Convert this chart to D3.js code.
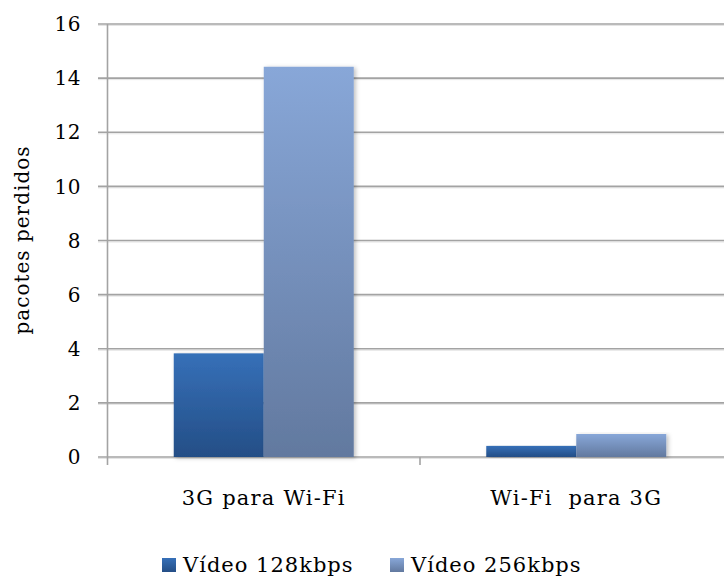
<!DOCTYPE html>
<html>
<head>
<meta charset="utf-8">
<script src="https://cdn.jsdelivr.net/npm/d3@7"></script>
<style>
  html, body { margin: 0; padding: 0; background: #fff; }
  svg { display: block; }
</style>
</head>
<body>
<svg id="chart" width="724" height="576"></svg>
<script>
// Lost packets during handover, per video bitrate
const categories = ["3G para Wi-Fi", "Wi-Fi\u00a0\u00a0para 3G"];
const seriesNames = ["Vídeo 128kbps", "Vídeo 256kbps"];
const video128 = [3.83, 0.41];
const video256 = [14.42, 0.85];
const yTicks = [0, 2, 4, 6, 8, 10, 12, 14, 16];
const yLabel = "pacotes perdidos";

const FONT = "'DejaVu Serif', 'Liberation Serif', serif";
const seriesValues = [video128, video256];
const svg = d3.select("#chart");
const W = 724, H = 576;
const margin = { left: 107.5, right: -8.5, top: 24, bottom: 119 };

const x = d3.scaleBand()
  .domain(categories)
  .range([margin.left, W - margin.right])
  .paddingInner(0)
  .paddingOuter(0);

const y = d3.scaleLinear()
  .domain([0, 16])
  .range([H - margin.bottom, margin.top]);

const xSub = d3.scaleBand()
  .domain(d3.range(seriesNames.length))
  .range([0, x.bandwidth()])
  .paddingInner(0)
  .paddingOuter(0.736);

const defs = svg.append("defs");
const grads = [
  ["#3670b8", "#244e86"],
  ["#88a7d8", "#62799f"]
];
grads.forEach((g, i) => {
  const lg = defs.append("linearGradient")
    .attr("id", "grad" + i)
    .attr("x1", 0).attr("y1", 0).attr("x2", 0).attr("y2", 1);
  lg.append("stop").attr("offset", "0%").attr("stop-color", g[0]);
  lg.append("stop").attr("offset", "100%").attr("stop-color", g[1]);
});
const shadow = defs.append("filter").attr("id", "shadow")
  .attr("x", "-20%").attr("y", "-5%").attr("width", "140%").attr("height", "110%");
shadow.append("feDropShadow")
  .attr("dx", 2).attr("dy", 1).attr("stdDeviation", 2)
  .attr("flood-color", "#000").attr("flood-opacity", 0.25);

// horizontal grid lines with their ticks on the left
const grid = svg.append("g");
grid.selectAll("line.sh").data(yTicks).join("line")
  .attr("class", "sh")
  .attr("x1", 98).attr("x2", W)
  .attr("y1", d => y(d) + 1.5).attr("y2", d => y(d) + 1.5)
  .attr("stroke", "#e4e4e4").attr("stroke-width", 1);
grid.selectAll("line.g").data(yTicks).join("line")
  .attr("class", "g")
  .attr("x1", 98).attr("x2", W)
  .attr("y1", d => y(d)).attr("y2", d => y(d))
  .attr("stroke", "#a3a3a3").attr("stroke-width", 1.6);

// vertical axis line
svg.append("line")
  .attr("x1", margin.left).attr("x2", margin.left)
  .attr("y1", y(16)).attr("y2", y(0) + 8)
  .attr("stroke", "#a3a3a3").attr("stroke-width", 1.6);

// category separator ticks
const sepX = categories.slice(1).map(c => x(c));
svg.selectAll("line.sep").data(sepX).join("line")
  .attr("class", "sep")
  .attr("x1", d => d).attr("x2", d => d)
  .attr("y1", y(0)).attr("y2", y(0) + 8)
  .attr("stroke", "#a3a3a3").attr("stroke-width", 1.6);

// y tick labels
svg.selectAll("text.yt").data(yTicks).join("text")
  .attr("class", "yt")
  .attr("x", 81).attr("y", d => y(d))
  .attr("dy", "0.36em")
  .attr("text-anchor", "end")
  .attr("font-family", FONT)
  .attr("font-size", 20)
  .attr("letter-spacing", 0.5)
  .text(d => d);

// bars
const groups = svg.append("g").selectAll("g").data(categories).join("g")
  .attr("transform", c => `translate(${x(c)},0)`);
groups.selectAll("rect").data((c, ci) => seriesValues.map((s, si) => ({ si, v: s[ci] })))
  .join("rect")
  .attr("x", d => xSub(d.si))
  .attr("width", xSub.bandwidth())
  .attr("y", d => y(d.v))
  .attr("height", d => y(0) - y(d.v))
  .attr("fill", d => `url(#grad${d.si})`)
  .attr("filter", "url(#shadow)");

// category labels
svg.selectAll("text.xc").data(categories).join("text")
  .attr("class", "xc")
  .attr("x", c => x(c) + x.bandwidth() / 2)
  .attr("y", 505)
  .attr("text-anchor", "middle")
  .attr("font-family", FONT)
  .attr("font-size", 21)
  .attr("letter-spacing", 1.2)
  .text(c => c);

// y axis title
svg.append("text")
  .attr("transform", "translate(29,240) rotate(-90)")
  .attr("text-anchor", "middle")
  .attr("font-family", FONT)
  .attr("font-size", 20)
  .attr("letter-spacing", 1)
  .text(yLabel);

// legend
const legendX = [162, 390];
const legend = svg.selectAll("g.lg").data(seriesNames).join("g")
  .attr("class", "lg")
  .attr("transform", (d, i) => `translate(${legendX[i]},558)`);
legend.append("rect")
  .attr("width", 14).attr("height", 14)
  .attr("fill", (d, i) => `url(#grad${i})`);
legend.append("text")
  .attr("x", 21).attr("y", 13.5)
  .attr("font-family", FONT)
  .attr("font-size", 21)
  .attr("letter-spacing", 1)
  .text(d => d);
</script>
</body>
</html>
